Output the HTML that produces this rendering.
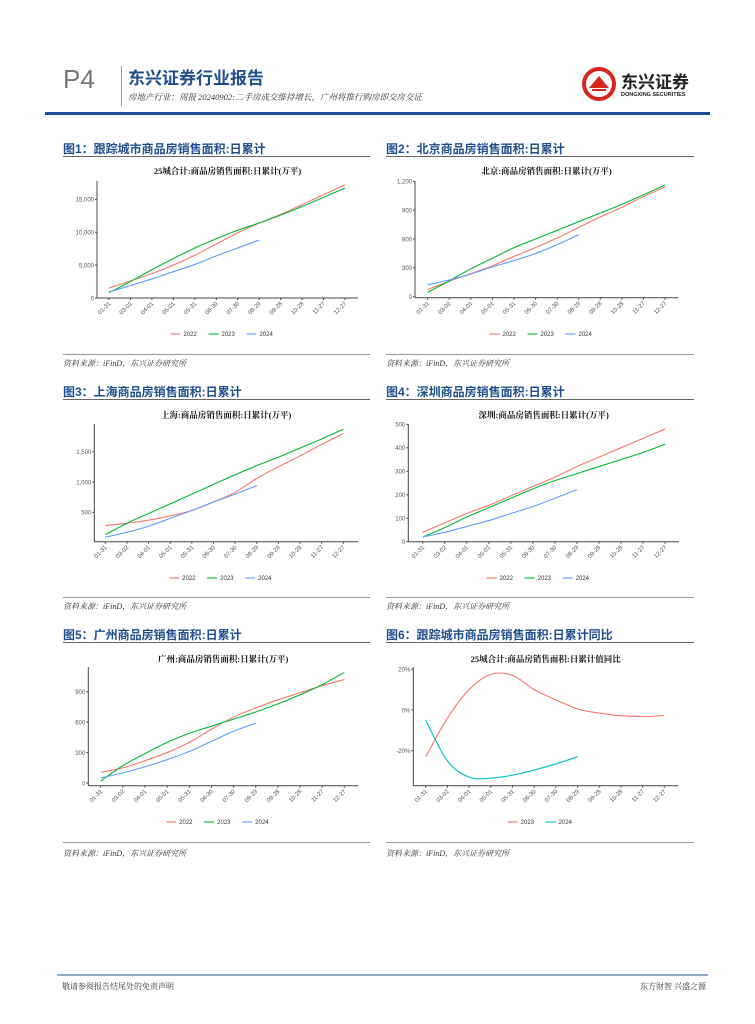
<!DOCTYPE html>
<html><head><meta charset="utf-8"><style>
body{margin:0;background:#fff;}
#pg{position:relative;width:755px;height:1024px;overflow:hidden;background:#fff;font-family:"Liberation Sans","Noto Sans CJK SC",sans-serif;}
.a{position:absolute;white-space:nowrap;}
.h{font-size:12px;font-weight:bold;color:#1f4e8c;}
.src{font-size:8px;font-style:italic;color:#333;font-family:"Liberation Serif","Noto Serif CJK SC",serif;}
.ln{position:absolute;height:1px;background:#666;}
</style></head><body>
<div id="pg">
<div class="a" style="left:63px;top:64px;font-size:26px;color:#777;">P4</div>
<div class="a" style="left:121px;top:66px;width:1px;height:40px;background:#999;"></div>
<div class="a" style="left:128px;top:64px;font-size:17px;font-weight:bold;color:#1f4e8c;">东兴证券行业报告</div>
<div class="a" style="left:128px;top:91px;font-size:8.5px;color:#333;font-family:'Liberation Serif','Noto Serif CJK SC',serif;font-style:italic;">房地产行业：周报 20240902:二手房成交维持增长，广州将推行购房即交房交证</div>
<div class="a" style="left:581px;top:66px;width:36px;height:36px;">
<svg width="36" height="36"><circle cx="18" cy="18" r="15" fill="none" stroke="#d7261e" stroke-width="4"/><path d="M8 22 L18 10 L28 22 Z" fill="#d7261e"/><path d="M11 24 H25" stroke="#d7261e" stroke-width="2"/></svg></div>
<div class="a" style="left:621px;top:68px;font-size:17px;font-weight:bold;color:#222;">东兴证券</div>
<div class="a" style="left:621px;top:92px;font-size:5.5px;font-weight:bold;color:#222;">DONGXING SECURITIES</div>
<div class="a" style="left:45px;top:112px;width:665px;height:3px;background:#1f4e8c;"></div>

<div class="a h" style="left:63px;top:140px;">图1：跟踪城市商品房销售面积:日累计</div>
<div class="a h" style="left:386px;top:140px;">图2：北京商品房销售面积:日累计</div>
<div class="a h" style="left:63px;top:383px;">图3：上海商品房销售面积:日累计</div>
<div class="a h" style="left:386px;top:383px;">图4：深圳商品房销售面积:日累计</div>
<div class="a h" style="left:63px;top:626px;">图5：广州商品房销售面积:日累计</div>
<div class="a h" style="left:386px;top:626px;">图6：跟踪城市商品房销售面积:日累计同比</div>

<div class="ln" style="left:63px;top:156px;width:307px;"></div><div class="ln" style="left:386px;top:156px;width:308px;"></div>
<div class="ln" style="left:63px;top:354px;width:307px;background:#999;"></div><div class="ln" style="left:386px;top:354px;width:308px;background:#999;"></div>
<div class="ln" style="left:63px;top:399px;width:307px;"></div><div class="ln" style="left:386px;top:399px;width:308px;"></div>
<div class="ln" style="left:63px;top:597px;width:307px;background:#999;"></div><div class="ln" style="left:386px;top:597px;width:308px;background:#999;"></div>
<div class="ln" style="left:63px;top:642px;width:307px;"></div><div class="ln" style="left:386px;top:642px;width:308px;"></div>
<div class="ln" style="left:63px;top:842px;width:307px;background:#999;"></div><div class="ln" style="left:386px;top:842px;width:308px;background:#999;"></div>

<div class="a src" style="left:63px;top:358px;">资料来源：iFinD，东兴证券研究所</div>
<div class="a src" style="left:386px;top:358px;">资料来源：iFinD，东兴证券研究所</div>
<div class="a src" style="left:63px;top:601px;">资料来源：iFinD，东兴证券研究所</div>
<div class="a src" style="left:386px;top:601px;">资料来源：iFinD，东兴证券研究所</div>
<div class="a src" style="left:63px;top:848px;">资料来源：iFinD，东兴证券研究所</div>
<div class="a src" style="left:386px;top:848px;">资料来源：iFinD，东兴证券研究所</div>

<div class="a" style="left:57px;top:974px;width:651px;height:2px;background:#8fa9c8;"></div>
<div class="a src" style="left:62px;top:981px;font-style:normal;">敬请参阅报告结尾处的免责声明</div>
<div class="a src" style="left:640px;top:981px;font-style:normal;">东方财智 兴盛之源</div>

<svg id="charts" width="755" height="1024" style="position:absolute;left:0;top:0;"></svg>
</div>
<script>
const categories = ["01-31","03-02","04-01","05-01","05-31","06-30","07-30","08-29","09-28","10-28","11-27","12-27"];
const c1_2022 = [1500,2600,3700,5000,6500,8200,9900,11400,12700,14200,15700,17200];
const c1_2023 = [800,2500,4300,6000,7600,9000,10300,11400,12600,13900,15300,16700];
const c1_2024 = [900,1900,2900,4000,5100,6400,7600,8800];
const c1_ticks = [0,5000,10000,15000];
const c1_tickLabels = ["0","5,000","10,000","15,000"];
const c2_2022 = [75,160,240,320,420,510,610,720,830,930,1040,1140];
const c2_2023 = [45,165,290,400,510,600,690,780,870,960,1060,1160];
const c2_2024 = [125,175,235,310,375,450,540,645];
const c2_ticks = [0,300,600,900,1200];
const c2_tickLabels = ["0","300","600","900","1,200"];
const c3_2022 = [280,320,370,440,530,670,830,1060,1250,1430,1620,1800];
const c3_2023 = [130,320,480,640,800,960,1120,1270,1410,1560,1710,1870];
const c3_2024 = [90,170,270,400,530,670,800,940];
const c3_ticks = [500,1000,1500];
const c3_tickLabels = ["500","1,000","1,500"];
const c4_2022 = [40,80,120,155,195,235,275,320,360,400,440,480];
const c4_2023 = [20,60,105,145,185,225,260,290,320,350,380,415];
const c4_2024 = [20,40,65,90,120,150,185,222];
const c4_ticks = [0,100,200,300,400,500];
const c4_tickLabels = ["0","100","200","300","400","500"];
const c5_2022 = [105,150,220,300,400,530,650,740,820,890,960,1020];
const c5_2023 = [20,170,290,400,490,560,630,700,780,870,970,1090];
const c5_2024 = [50,100,160,230,310,410,510,590];
const c5_ticks = [0,300,600,900];
const c5_tickLabels = ["0","300","600","900"];
const c6_2023 = [-23,-4,10,17.5,17,10,5,0.5,-1.5,-2.8,-3.2,-2.7];
const c6_2024 = [-5,-25,-33,-33.5,-32,-29.5,-26.5,-23];
const c6_ticks = [-20,0,20];
const c6_tickLabels = ["-20%","0%","20%"];
const seriesNames3 = ["2022","2023","2024"];
const seriesNames2 = ["2023","2024"];

const NS="http://www.w3.org/2000/svg";
const svg=document.getElementById('charts');
function mk(tag,attrs,parent){const e=document.createElementNS(NS,tag);for(const k in attrs)e.setAttribute(k,attrs[k]);(parent||svg).appendChild(e);return e;}
function smooth(pts){let d="M"+pts[0][0]+","+pts[0][1];for(let i=0;i<pts.length-1;i++){const p0=pts[i-1]||pts[i],p1=pts[i],p2=pts[i+1],p3=pts[i+2]||p2;d+=" C"+(p1[0]+(p2[0]-p0[0])/6)+","+(p1[1]+(p2[1]-p0[1])/6)+" "+(p2[0]-(p3[0]-p1[0])/6)+","+(p2[1]-(p3[1]-p1[1])/6)+" "+p2[0]+","+p2[1];}return d;}
function chart(id,cfg){
  const g=mk('g',{});
  
  
  const xs=i=>cfg.x0+(cfg.x1-cfg.x0)*i/(categories.length-1);
  const ys=v=>cfg.yA+(v-cfg.vA)*(cfg.yB-cfg.yA)/(cfg.vB-cfg.vA);
  const t=mk('text',{x:(cfg.axL+cfg.axR)/2,y:cfg.titleY,'text-anchor':'middle','font-size':8.5,'font-weight':'bold',fill:'#111','font-family':'"Liberation Serif","Noto Serif CJK SC",serif'},g);
  t.textContent=cfg.title;
  
  
  const ya=mk('line',{x1:cfg.axL,y1:cfg.axT,x2:cfg.axL,y2:cfg.axB,stroke:'#444','stroke-width':1},g);
  
  
  const xa=mk('line',{x1:cfg.axL,y1:cfg.axB,x2:cfg.axR,y2:cfg.axB,stroke:'#444','stroke-width':1},g);
  
  
  cfg.ticks.forEach((v,i)=>{const y=ys(v);mk('line',{x1:cfg.axL-2,y1:y,x2:cfg.axL,y2:y,stroke:'#444'},g);
    const tl=mk('text',{x:cfg.axL-3,y:y+2.3,'text-anchor':'end','font-size':6,fill:'#555'},g);tl.textContent=cfg.tickLabels[i];
    
    });
  categories.forEach((c,i)=>{const x=xs(i);mk('line',{x1:x,y1:cfg.axB,x2:x,y2:cfg.axB+2,stroke:'#444'},g);
    const tl=mk('text',{x:x+2,y:cfg.axB+6,'text-anchor':'end','font-size':6,fill:'#555',transform:'rotate(-45 '+(x+2)+' '+(cfg.axB+6)+')'},g);tl.textContent=c;
    
    });
  cfg.series.forEach((s,k)=>{const pts=s.map((v,i)=>[xs(i),ys(v)]);
    const p=mk('path',{d:smooth(pts),fill:'none',stroke:cfg.colors[k],'stroke-width':1.1},g);
    
    });
  const n=cfg.names.length, w=38, start=(cfg.axL+cfg.axR)/2-n*w/2;
  cfg.names.forEach((nm,k)=>{const lx=start+k*w;
    mk('line',{x1:lx,y1:cfg.legY,x2:lx+10,y2:cfg.legY,stroke:cfg.colors[k],'stroke-width':1.1},g);
    const tl=mk('text',{x:lx+13,y:cfg.legY+2.2,'font-size':6,fill:'#333'},g);tl.textContent=nm;
    
    });
}
const C3=["#F8766D","#00BA38","#619CFF"], C2=["#F8766D","#00BFC4"];
chart('chart-25-cities',{title:"25城合计:商品房销售面积:日累计(万平)",titleY:174,axL:97,axR:358,axT:181,axB:298,x0:109,x1:345,vA:0,yA:298,vB:15000,yB:199.3,ticks:c1_ticks,tickLabels:c1_tickLabels,series:[c1_2022,c1_2023,c1_2024],colors:C3,names:seriesNames3,legY:334});
chart('chart-beijing',{title:"北京:商品房销售面积:日累计(万平)",titleY:174,axL:415,axR:678,axT:181,axB:297.7,x0:427.7,x1:665,vA:0,yA:296.7,vB:1200,yB:181.3,ticks:c2_ticks,tickLabels:c2_tickLabels,series:[c2_2022,c2_2023,c2_2024],colors:C3,names:seriesNames3,legY:334});
chart('chart-shanghai',{title:"上海:商品房销售面积:日累计(万平)",titleY:418,axL:94.3,axR:358,axT:424,axB:541.7,x0:105.3,x1:343.3,vA:500,yA:512.3,vB:1500,yB:451.7,ticks:c3_ticks,tickLabels:c3_tickLabels,series:[c3_2022,c3_2023,c3_2024],colors:C3,names:seriesNames3,legY:578});
chart('chart-shenzhen',{title:"深圳:商品房销售面积:日累计(万平)",titleY:418,axL:408.3,axR:679,axT:424,axB:541.7,x0:422.7,x1:665,vA:0,yA:541.7,vB:500,yB:424.3,ticks:c4_ticks,tickLabels:c4_tickLabels,series:[c4_2022,c4_2023,c4_2024],colors:C3,names:seriesNames3,legY:578});
chart('chart-guangzhou',{title:"广州:商品房销售面积:日累计(万平)",titleY:662,axL:88.3,axR:358,axT:667,axB:785.7,x0:100.7,x1:344.3,vA:0,yA:783,vB:900,yB:691.7,ticks:c5_ticks,tickLabels:c5_tickLabels,series:[c5_2022,c5_2023,c5_2024],colors:C3,names:seriesNames3,legY:822});
chart('chart-yoy',{title:"25城合计:商品房销售面积:日累计值同比",titleY:662,axL:413.3,axR:678,axT:667,axB:785.7,x0:425.7,x1:664.3,vA:0,yA:710,vB:20,yB:669.3,ticks:c6_ticks,tickLabels:c6_tickLabels,series:[c6_2023,c6_2024],colors:C2,names:seriesNames2,legY:822});
</script>
</body></html>
